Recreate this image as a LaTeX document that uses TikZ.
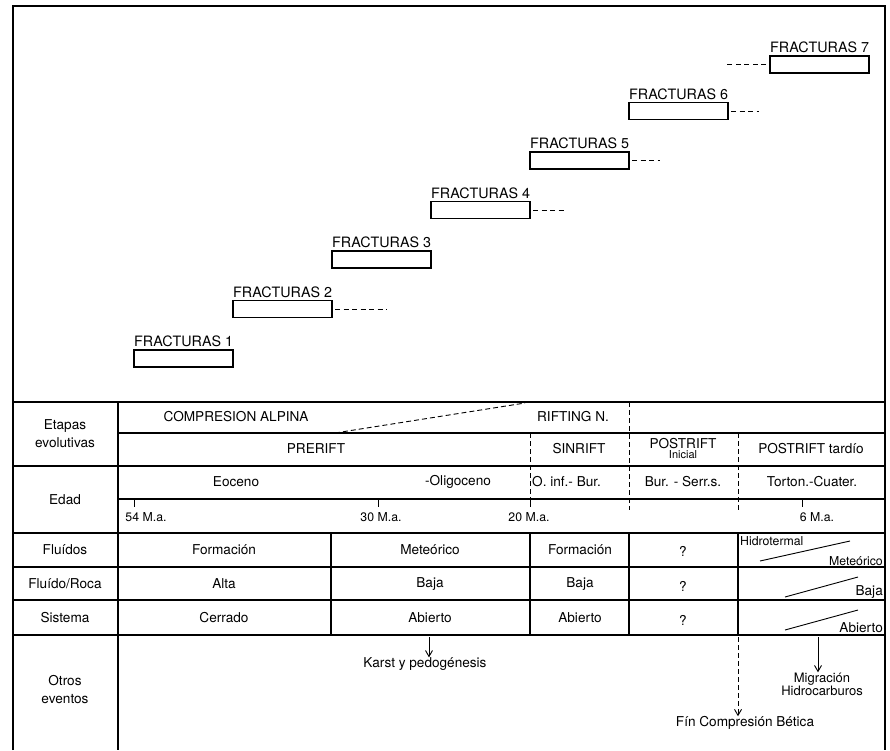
\documentclass[tikz,border=0pt]{standalone}
\usepackage{fontspec}
\setmainfont{TeX Gyre Heros}
\usetikzlibrary{positioning,arrows.meta}
\tikzset{
    frac/.style={
        draw, line width=1.2pt, minimum width=99pt, minimum height=17pt,
        inner sep=0pt, outer sep=0pt
    },
    fraclab/.style={
        anchor=south west, inner xsep=0pt, inner ysep=3pt, font=\fontsize{14.3}{16}\selectfont
    },
    cell/.style={inner sep=0pt, font=\fontsize{13.6}{18}\selectfont},
    smallcell/.style={inner sep=0pt, font=\fontsize{12.3}{12}\selectfont},
    fracdash/.style={dash pattern=on 5pt off 3.5pt, line width=1pt},
    tabline/.style={line width=1.1pt},
    stageline/.style={dash pattern=on 5pt off 3pt, line width=0.9pt},
    evento/.style={-{Straight Barb[length=6pt,width=7pt]}, line width=0.9pt}
}

\begin{document}
\begin{tikzpicture}[x=1pt,y=-1pt, line cap=butt, line join=miter]
\useasboundingbox (0,0) rectangle (890,750);

% frame
\draw[line width=1.8pt] (13,750) -- (13,6) -- (885,6) -- (885,750);

% fracturas
\node[frac, anchor=north west] (f1) at (134,350) {};
\foreach \i [count=\j from 2] in {1,...,5}
  \node[frac, above right=32.5pt and 0pt of f\i] (f\j) {};
\node[frac, above right=29.5pt and 42pt of f6] (f7) {};

\foreach \i in {1,...,7}
  \node[fraclab] (l\i) at (f\i.north west) {FRACTURAS \i};

\coordinate[right=55pt of f2] (d2);
\coordinate[right=35pt of f4] (d4);
\coordinate[right=31pt of f5] (d5);
\coordinate[right=31pt of f6] (d6);
\coordinate[left=43pt of f7] (d7);
\draw[fracdash, shorten <=3pt] (f2.east) -- (d2);
\draw[fracdash, shorten <=3pt] (f4.east) -- (d4);
\draw[fracdash, shorten <=3pt] (f5.east) -- (d5);
\draw[fracdash, shorten <=3pt] (f6.east) -- (d6);
\draw[fracdash, shorten <=4pt] (f7.west) -- (d7);

% table rules
\foreach \y in {402,466,533,567,600,635}
  \draw[tabline] (13,\y) -- (885,\y);
\foreach \y in {433,499}
  \draw[tabline] (118,\y) -- (885,\y);
\draw[tabline] (118,402) -- (118,750);
\foreach \x in {331,530,629,738}
  \draw[tabline] (\x,533) -- (\x,635);

% stage limits
\draw[stageline] (629,402) -- (629,510);
\draw[stageline] (738,433) -- (738,510);
\draw[stageline] (530,433) -- (530,499);
\draw[stageline] (335,433) -- (525,403);

% left column
\node[cell, align=center] (etapas) at (65,434) {Etapas\\evolutivas};
\node[cell] (edad) at (65,500) {Edad};
\node[cell] (fluidos) at (65,550) {Fluídos};
\node[cell] (fluroca) at (65,584) {Fluído/Roca};
\node[cell] (sistema) at (65,618) {Sistema};
\node[cell, align=center] (otros) at (65,690) {Otros\\eventos};

% etapas
\node[cell] (compres) at (236,417) {COMPRESION ALPINA};
\node[cell] (rifting) at (573,417) {RIFTING N.};
\node[cell] (prerift) at (316,449) {PRERIFT};
\node[cell] (sinrift) at (579,449) {SINRIFT};
\node[cell] (postini) at (683,444) {POSTRIFT};
\node[smallcell, font=\fontsize{11}{11}\selectfont] (inicial) at (683,455) {Inicial};
\node[cell] (posttar) at (811,449) {POSTRIFT tardío};

% edad
\node[cell] (eoceno) at (236,482) {Eoceno};
\node[cell] (oligo) at (458,482) {-Oligoceno};
\node[cell, anchor=west] (oinf) at (532,482) {O. inf.- Bur.};
\node[cell] (burserr) at (683,482) {Bur. - Serr.s.};
\node[cell] (torton) at (812,482) {Torton.-Cuater.};

\foreach \x/\lx/\t in {134/146/54, 378/381/30, 530/529/20, 802/817/6} {
  \draw[line width=0.8pt] (\x,499) -- (\x,507);
  \node[smallcell] (ma\t) at (\lx,517) {\t\ M.a.};
}

% fluidos
\node[cell] (fl1) at (224,550) {Formación};
\node[cell] (fl2) at (430,550) {Meteórico};
\node[cell] (fl3) at (580,550) {Formación};
\node[cell] (fl4) at (683,551) {?};
\node[smallcell, anchor=north west] (fl5a) at (740,536) {Hidrotermal};
\node[smallcell, anchor=south east] (fl5b) at (883,566) {Meteórico};
\draw[line width=0.9pt] (760,561) -- (850,541);

% fluido/roca
\node[cell] (fr1) at (224,584) {Alta};
\node[cell] (fr2) at (430,584) {Baja};
\node[cell] (fr3) at (580,584) {Baja};
\node[cell] (fr4) at (683,586) {?};
\node[cell, anchor=south east] (fr5) at (883,599) {Baja};
\draw[line width=0.9pt] (785,597) -- (858,577);

% sistema
\node[cell] (si1) at (224,618) {Cerrado};
\node[cell] (si2) at (430,618) {Abierto};
\node[cell] (si3) at (580,618) {Abierto};
\node[cell] (si4) at (683,620) {?};
\node[cell, anchor=south east] (si5) at (883,633) {Abierto};
\draw[line width=0.9pt] (785,630) -- (858,610);

% otros eventos
\node[cell] (karst) at (425,664) {Karst y pedogénesis};
\node[smallcell, align=center, font=\fontsize{13}{12}\selectfont] (migra) at (822,684) {Migración\\Hidrocarburos};
\node[cell] (fin) at (745,723) {Fín Compresión Bética};
\coordinate (karsttop) at (429,637);
\coordinate (migratop) at (818,637);
\coordinate (fintop) at (738,637);
\draw[evento] (karsttop) -- (karsttop |- karst.north);
\draw[evento] (migratop) -- (migratop |- migra.north);
\draw[evento, dash pattern=on 5pt off 3pt] (fintop) -- (fintop |- fin.north);

\end{tikzpicture}
\end{document}
